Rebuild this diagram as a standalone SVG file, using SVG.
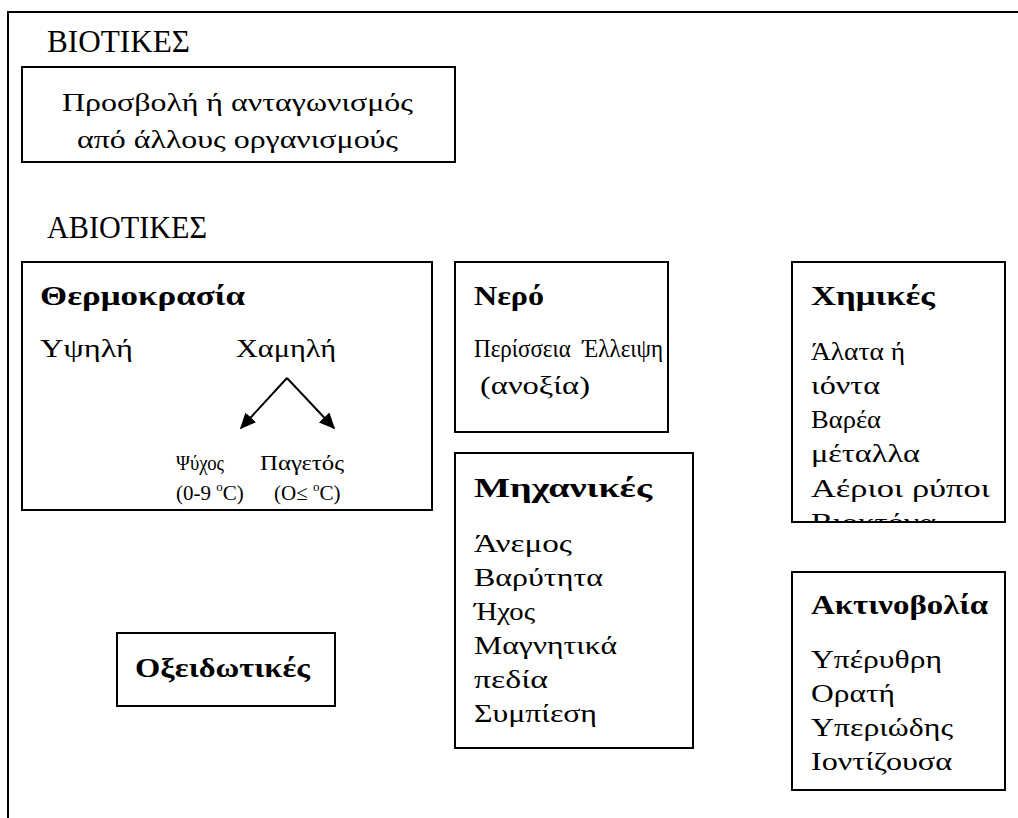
<svg xmlns="http://www.w3.org/2000/svg" width="1018" height="818" viewBox="0 0 1018 818">
<style>
text{font-family:"Liberation Serif","Noto Sans",serif;fill:#000}
.t{font-size:26px}
.h{font-size:31px}
.b{font-size:28px;font-weight:bold}
.s{font-size:21px}
.box{fill:#fff;stroke:#000;stroke-width:2}
.ln{stroke:#000;stroke-width:2;fill:none}
</style>
<defs>
<marker id="ah" viewBox="0 0 10 10" refX="9" refY="5" markerWidth="8" markerHeight="8" markerUnits="strokeWidth" orient="auto">
<path d="M0,0.5 L10,5 L0,9.5 z" fill="#000"/>
</marker>
<clipPath id="chimClip"><rect x="792" y="262" width="213" height="260"/></clipPath>
</defs>
<rect width="1018" height="818" fill="#fff"/>
<g id="frame">
<path class="ln" d="M8,818 V12 H1018" stroke-width="2.5"/>
</g>
<text class="h" x="47" y="52" textLength="143" lengthAdjust="spacingAndGlyphs">ΒΙΟΤΙΚΕΣ</text>
<g id="biotic">
<rect class="box" x="22" y="67" width="433" height="95"/>
<text class="t" x="62" y="111" textLength="351" lengthAdjust="spacingAndGlyphs">Προσβολή ή ανταγωνισμός</text>
<text class="t" x="77" y="148" textLength="321" lengthAdjust="spacingAndGlyphs">από άλλους οργανισμούς</text>
</g>
<text class="h" x="47" y="238" textLength="160" lengthAdjust="spacingAndGlyphs">ΑΒΙΟΤΙΚΕΣ</text>
<g id="thermo">
<rect class="box" x="22" y="262" width="410" height="248"/>
<text class="b" x="40" y="305" textLength="205" lengthAdjust="spacingAndGlyphs">Θερμοκρασία</text>
<text class="t" x="40" y="357" textLength="93" lengthAdjust="spacingAndGlyphs">Υψηλή</text>
<text class="t" x="236" y="357" textLength="100" lengthAdjust="spacingAndGlyphs">Χαμηλή</text>
<text class="s" x="176" y="470" textLength="48" lengthAdjust="spacingAndGlyphs">Ψύχος</text>
<text class="s" x="176" y="500">(0-9 <tspan font-size="13" dy="-9">o</tspan><tspan dy="9">C)</tspan></text>
<text class="s" x="260" y="470" textLength="84" lengthAdjust="spacingAndGlyphs">Παγετός</text>
<text class="s" x="274" y="500">(O≤ <tspan font-size="13" dy="-9">o</tspan><tspan dy="9">C)</tspan></text>
</g>
<g id="connectors">
<line class="ln" x1="287" y1="378" x2="241" y2="428" marker-end="url(#ah)"/>
<line class="ln" x1="287" y1="378" x2="334" y2="428" marker-end="url(#ah)"/>
</g>
<g id="nero">
<rect class="box" x="455" y="262" width="213" height="170"/>
<text class="b" x="474" y="305" textLength="70" lengthAdjust="spacingAndGlyphs">Νερό</text>
<text class="t" x="474" y="357" textLength="189" lengthAdjust="spacingAndGlyphs" xml:space="preserve">Περίσσεια  Έλλειψη</text>
<text class="t" x="480" y="394" textLength="110" lengthAdjust="spacingAndGlyphs">(ανοξία)</text>
</g>
<g id="chimikes">
<rect class="box" x="792" y="262" width="213" height="260"/>
<g clip-path="url(#chimClip)">
<text class="b" x="811" y="305" textLength="124" lengthAdjust="spacingAndGlyphs">Χημικές</text>
<text class="t" x="811" y="360" textLength="94" lengthAdjust="spacingAndGlyphs">Άλατα ή</text>
<text class="t" x="811" y="394" textLength="69" lengthAdjust="spacingAndGlyphs">ιόντα</text>
<text class="t" x="811" y="428" textLength="70" lengthAdjust="spacingAndGlyphs">Βαρέα</text>
<text class="t" x="811" y="462" textLength="109" lengthAdjust="spacingAndGlyphs">μέταλλα</text>
<text class="t" x="811" y="497" textLength="179" lengthAdjust="spacingAndGlyphs">Αέριοι ρύποι</text>
<text class="t" x="811" y="531" textLength="125" lengthAdjust="spacingAndGlyphs">Βιοκτόνα</text>
</g>
</g>
<g id="mechanikes">
<rect class="box" x="455" y="453" width="238" height="295"/>
<text class="b" x="474" y="497" textLength="178" lengthAdjust="spacingAndGlyphs">Μηχανικές</text>
<text class="t" x="474" y="552" textLength="98" lengthAdjust="spacingAndGlyphs">Άνεμος</text>
<text class="t" x="474" y="586" textLength="129" lengthAdjust="spacingAndGlyphs">Βαρύτητα</text>
<text class="t" x="474" y="620" textLength="61" lengthAdjust="spacingAndGlyphs">Ήχος</text>
<text class="t" x="474" y="654" textLength="143" lengthAdjust="spacingAndGlyphs">Μαγνητικά</text>
<text class="t" x="474" y="688" textLength="74" lengthAdjust="spacingAndGlyphs">πεδία</text>
<text class="t" x="474" y="722" textLength="123" lengthAdjust="spacingAndGlyphs">Συμπίεση</text>
</g>
<g id="aktinovolia">
<rect class="box" x="792" y="572" width="213" height="218"/>
<text class="b" x="811" y="614" textLength="177" lengthAdjust="spacingAndGlyphs">Ακτινοβολία</text>
<text class="t" x="811" y="668" textLength="131" lengthAdjust="spacingAndGlyphs">Υπέρυθρη</text>
<text class="t" x="811" y="702" textLength="84" lengthAdjust="spacingAndGlyphs">Ορατή</text>
<text class="t" x="811" y="736" textLength="142" lengthAdjust="spacingAndGlyphs">Υπεριώδης</text>
<text class="t" x="811" y="770" textLength="141" lengthAdjust="spacingAndGlyphs">Ιοντίζουσα</text>
</g>
<g id="oxeidotikes">
<rect class="box" x="117" y="633" width="218" height="73"/>
<text class="b" x="135" y="677" textLength="175" lengthAdjust="spacingAndGlyphs">Οξειδωτικές</text>
</g>
</svg>
